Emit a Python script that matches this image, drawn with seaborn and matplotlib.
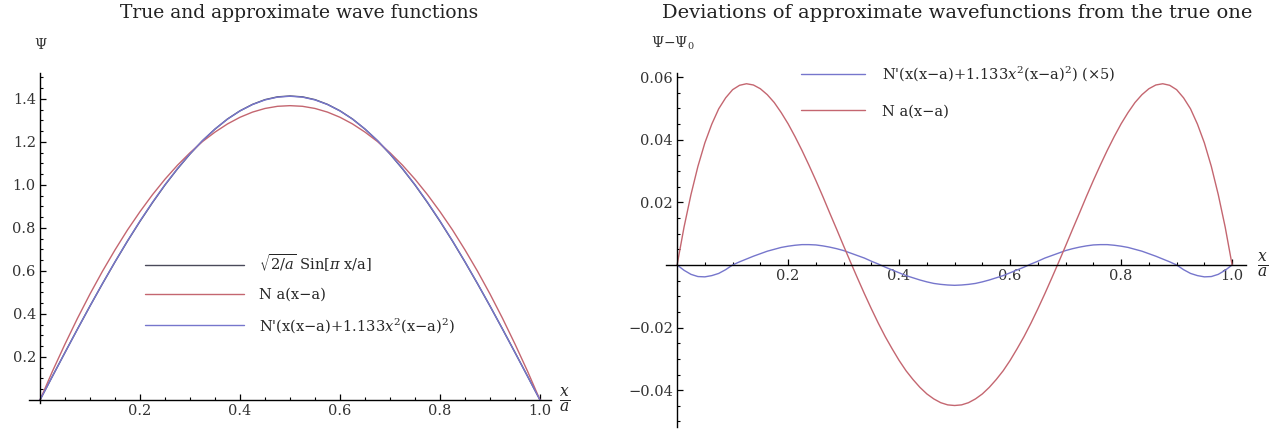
import numpy as np
import pandas as pd
import seaborn as sns
import matplotlib.pyplot as plt
from matplotlib.ticker import FixedLocator, FixedFormatter

# sample positions x/a for the left panel (steps of 0.025)
x_vals = [0.0, 0.025, 0.05, 0.075, 0.1, 0.125, 0.15, 0.175, 0.2, 0.225,
          0.25, 0.275, 0.3, 0.325, 0.35, 0.375, 0.4, 0.425, 0.45, 0.475,
          0.5, 0.525, 0.55, 0.575, 0.6, 0.625, 0.65, 0.675, 0.7, 0.725,
          0.75, 0.775, 0.8, 0.825, 0.85, 0.875, 0.9, 0.925, 0.95, 0.975, 1.0]

# left panel: wave functions
psi_true = [0.0, 0.111, 0.221, 0.330, 0.437, 0.541, 0.642, 0.739, 0.831, 0.918,
            1.000, 1.075, 1.144, 1.206, 1.260, 1.307, 1.345, 1.375, 1.397, 1.410,
            1.414, 1.410, 1.397, 1.375, 1.345, 1.307, 1.260, 1.206, 1.144, 1.075,
            1.000, 0.918, 0.831, 0.739, 0.642, 0.541, 0.437, 0.330, 0.221, 0.111, 0.0]
psi_para = [0.0, 0.134, 0.260, 0.380, 0.493, 0.599, 0.698, 0.791, 0.876, 0.955,
            1.027, 1.092, 1.150, 1.202, 1.246, 1.284, 1.315, 1.339, 1.356, 1.366,
            1.369, 1.366, 1.356, 1.339, 1.315, 1.284, 1.246, 1.202, 1.150, 1.092,
            1.027, 0.955, 0.876, 0.791, 0.698, 0.599, 0.493, 0.380, 0.260, 0.134, 0.0]
psi_var = [0.0, 0.1104, 0.2204, 0.3296, 0.4370, 0.5416, 0.6427, 0.7399, 0.8325, 0.9198,
           1.0013, 1.0765, 1.1450, 1.2064, 1.2603, 1.3065, 1.3445, 1.3743, 1.3957, 1.4087,
           1.4129, 1.4087, 1.3957, 1.3743, 1.3445, 1.3065, 1.2603, 1.2064, 1.1450, 1.0765,
           1.0013, 0.9198, 0.8325, 0.7399, 0.6427, 0.5416, 0.4370, 0.3296, 0.2204, 0.1104, 0.0]

# right panel sample positions (steps of 0.0125)
x_fine = [0.0, 0.0125, 0.025, 0.0375, 0.05, 0.0625, 0.075, 0.0875, 0.1, 0.1125,
          0.125, 0.1375, 0.15, 0.1625, 0.175, 0.1875, 0.2, 0.2125, 0.225, 0.2375,
          0.25, 0.2625, 0.275, 0.2875, 0.3, 0.3125, 0.325, 0.3375, 0.35, 0.3625,
          0.375, 0.3875, 0.4, 0.4125, 0.425, 0.4375, 0.45, 0.4625, 0.475, 0.4875,
          0.5, 0.5125, 0.525, 0.5375, 0.55, 0.5625, 0.575, 0.5875, 0.6, 0.6125,
          0.625, 0.6375, 0.65, 0.6625, 0.675, 0.6875, 0.7, 0.7125, 0.725, 0.7375,
          0.75, 0.7625, 0.775, 0.7875, 0.8, 0.8125, 0.825, 0.8375, 0.85, 0.8625,
          0.875, 0.8875, 0.9, 0.9125, 0.925, 0.9375, 0.95, 0.9625, 0.975, 0.9875, 1.0]

# right panel: deviations from the true function
dev_para = [0.0, 0.0121, 0.0225, 0.0315, 0.0390, 0.0450, 0.0499, 0.0534, 0.0560, 0.0574,
            0.0579, 0.0575, 0.0563, 0.0544, 0.0519, 0.0487, 0.0451, 0.0410, 0.0366, 0.0319,
            0.0270, 0.0219, 0.0166, 0.0114, 0.0061, 0.0009, -0.0042, -0.0092, -0.0140, -0.0186,
            -0.0229, -0.0268, -0.0305, -0.0338, -0.0366, -0.0391, -0.0412, -0.0428, -0.0440, -0.0447,
            -0.0449, -0.0447, -0.0440, -0.0428, -0.0412, -0.0391, -0.0366, -0.0338, -0.0305, -0.0268,
            -0.0229, -0.0186, -0.0140, -0.0092, -0.0042, 0.0009, 0.0061, 0.0114, 0.0166, 0.0219,
            0.0270, 0.0319, 0.0366, 0.0410, 0.0451, 0.0487, 0.0519, 0.0544, 0.0563, 0.0575,
            0.0579, 0.0574, 0.0560, 0.0534, 0.0499, 0.0450, 0.0390, 0.0315, 0.0225, 0.0121, 0.0]
dev_var5 = [0.0, -0.0017, -0.0030, -0.0037, -0.0038, -0.0034, -0.0027, -0.0015, 0.0000, 0.0010,
            0.0019, 0.0028, 0.0036, 0.0044, 0.0050, 0.0056, 0.0060, 0.0063, 0.0065, 0.0065,
            0.0064, 0.0061, 0.0057, 0.0052, 0.0046, 0.0038, 0.0030, 0.0022, 0.0012, 0.0003,
            -0.0007, -0.0016, -0.0025, -0.0034, -0.0041, -0.0048, -0.0054, -0.0059, -0.0062, -0.0064,
            -0.0065, -0.0064, -0.0062, -0.0059, -0.0054, -0.0048, -0.0041, -0.0034, -0.0025, -0.0016,
            -0.0007, 0.0003, 0.0012, 0.0022, 0.0030, 0.0038, 0.0046, 0.0052, 0.0057, 0.0061,
            0.0064, 0.0065, 0.0065, 0.0063, 0.0060, 0.0056, 0.0050, 0.0044, 0.0036, 0.0028,
            0.0019, 0.0010, 0.0000, -0.0015, -0.0027, -0.0034, -0.0038, -0.0037, -0.0030, -0.0017, 0.0]

lab_true = r"$\sqrt{2/a}$ Sin[$\pi$ x/a]"
lab_para = "N a(x\u2212a)"
lab_var = "N'(x(x\u2212a)+1.133$x^2$(x\u2212a)$^2$)"
lab_var5 = "N'(x(x\u2212a)+1.133$x^2$(x\u2212a)$^2$) (\u00d75)"

col_black = "#4a4a5a"
col_red = "#c46670"
col_blue = "#7676cc"

sns.set_theme(style="white")
plt.rcParams["font.family"] = ["DejaVu Serif"]
plt.rcParams["mathtext.fontset"] = "dejavuserif"

W, H = 1274, 430
fig = plt.figure(figsize=(W / 100, H / 100), dpi=100)

# left axes: origin at px 40, 500 px per unit, y 0 at px 400, 215 px per unit
ax1 = fig.add_axes([29.0 / W, (H - 403.2) / H, 522 / W, 330 / H])
# right axes: origin at px 677, 555 px per unit, y 0 at px 265
ax2 = fig.add_axes([666 / W, (H - 427.1) / H, 580 / W, 354 / H])

left_df = pd.DataFrame({"x": x_vals * 3,
                        "y": psi_true + psi_para + psi_var,
                        "s": [lab_true] * 41 + [lab_para] * 41 + [lab_var] * 41})
sns.lineplot(data=left_df, x="x", y="y", hue="s", sort=False,
             palette=[col_black, col_red, col_blue], linewidth=1.0, ax=ax1)

right_df = pd.DataFrame({"x": x_fine * 2,
                         "y": dev_var5 + dev_para,
                         "s": [lab_var5] * 81 + [lab_para] * 81})
sns.lineplot(data=right_df, x="x", y="y", hue="s", sort=False,
             palette=[col_blue, col_red], linewidth=1.0, ax=ax2)

ax1.set_xlim(-0.022, 1.022)
ax1.set_ylim(-0.015, 1.52)
ax2.set_xlim(-0.02, 1.025)
ax2.set_ylim(-0.0518, 0.0613)

x_major = [0.2, 0.4, 0.6, 0.8, 1.0]
x_minor = [0.05, 0.1, 0.15, 0.25, 0.3, 0.35, 0.45, 0.5, 0.55, 0.65, 0.7, 0.75, 0.85, 0.9, 0.95]
y1_major = [0.2, 0.4, 0.6, 0.8, 1.0, 1.2, 1.4]
y1_minor = [0.05, 0.1, 0.15, 0.25, 0.3, 0.35, 0.45, 0.5, 0.55, 0.65, 0.7, 0.75,
            0.85, 0.9, 0.95, 1.05, 1.1, 1.15, 1.25, 1.3, 1.35, 1.45, 1.5]
y2_major = [-0.04, -0.02, 0.02, 0.04, 0.06]
y2_minor = [-0.05, -0.045, -0.035, -0.03, -0.025, -0.015, -0.01, -0.005,
            0.005, 0.01, 0.015, 0.025, 0.03, 0.035, 0.045, 0.05, 0.055]

for ax, ymaj, ymin, ylabs in [
        (ax1, y1_major, y1_minor, ["0.2", "0.4", "0.6", "0.8", "1.0", "1.2", "1.4"]),
        (ax2, y2_major, y2_minor, ["\u22120.04", "\u22120.02", "0.02", "0.04", "0.06"])]:
    ax.set_xlabel("")
    ax.set_ylabel("")
    ax.get_legend().remove()
    for side in ["top", "right"]:
        ax.spines[side].set_visible(False)
    for side in ["left", "bottom"]:
        ax.spines[side].set_position(("data", 0))
        ax.spines[side].set_color("black")
        ax.spines[side].set_linewidth(1.0)
    ax.xaxis.set_major_locator(FixedLocator(x_major))
    ax.xaxis.set_major_formatter(FixedFormatter(["0.2", "0.4", "0.6", "0.8", "1.0"]))
    ax.xaxis.set_minor_locator(FixedLocator(x_minor))
    ax.yaxis.set_major_locator(FixedLocator(ymaj))
    ax.yaxis.set_major_formatter(FixedFormatter(ylabs))
    ax.yaxis.set_minor_locator(FixedLocator(ymin))
    ax.tick_params(which="major", direction="in", length=4.5, width=0.9, color="black",
                   labelsize=10.5, labelcolor="#333333", pad=3)
    ax.tick_params(which="minor", direction="in", length=2.5, width=0.8, color="black")
    ax.tick_params(axis="x", which="both", bottom=True)
    ax.tick_params(axis="y", which="both", left=True)
    ax.patch.set_alpha(0)

# x/a labels at the end of the x axes
ax1.text(1.05, 0.0, r"$\frac{x}{a}$", fontsize=16, ha="center", va="center",
         transform=ax1.transData, clip_on=False)
ax2.text(1.055, 0.0, r"$\frac{x}{a}$", fontsize=16, ha="center", va="center",
         transform=ax2.transData, clip_on=False)

fig.text(40 / W, 1 - 45 / H, "\u03a8", fontsize=10, ha="center", va="center", color="#333333")
fig.text(673 / W, 1 - 43 / H, "\u03a8\u2212\u03a8$_0$", fontsize=10, ha="center", va="center",
         color="#333333")

fig.text(299 / W, 1 - 13 / H, "True and approximate wave functions", fontsize=13.5,
         ha="center", va="center", color="#222222")
fig.text(957 / W, 1 - 13 / H, "Deviations of approximate wavefunctions from the true one",
         fontsize=14, ha="center", va="center", color="#222222")

# legends
h1, l1 = ax1.get_legend_handles_labels()
ax1.legend(h1, l1, loc="upper left", bbox_to_anchor=(138 / W, 1 - 245 / H),
           bbox_transform=fig.transFigure, frameon=False, fontsize=10.5,
           handlelength=6.8, handletextpad=1.0, labelspacing=0.95, borderpad=0)
h2, l2 = ax2.get_legend_handles_labels()
ax2.legend(h2, l2, loc="upper left", bbox_to_anchor=(794 / W, 1 - 57 / H),
           bbox_transform=fig.transFigure, frameon=False, fontsize=10.5,
           handlelength=4.4, handletextpad=1.1, labelspacing=1.45, borderpad=0)

fig.savefig("out.png", dpi=100)
